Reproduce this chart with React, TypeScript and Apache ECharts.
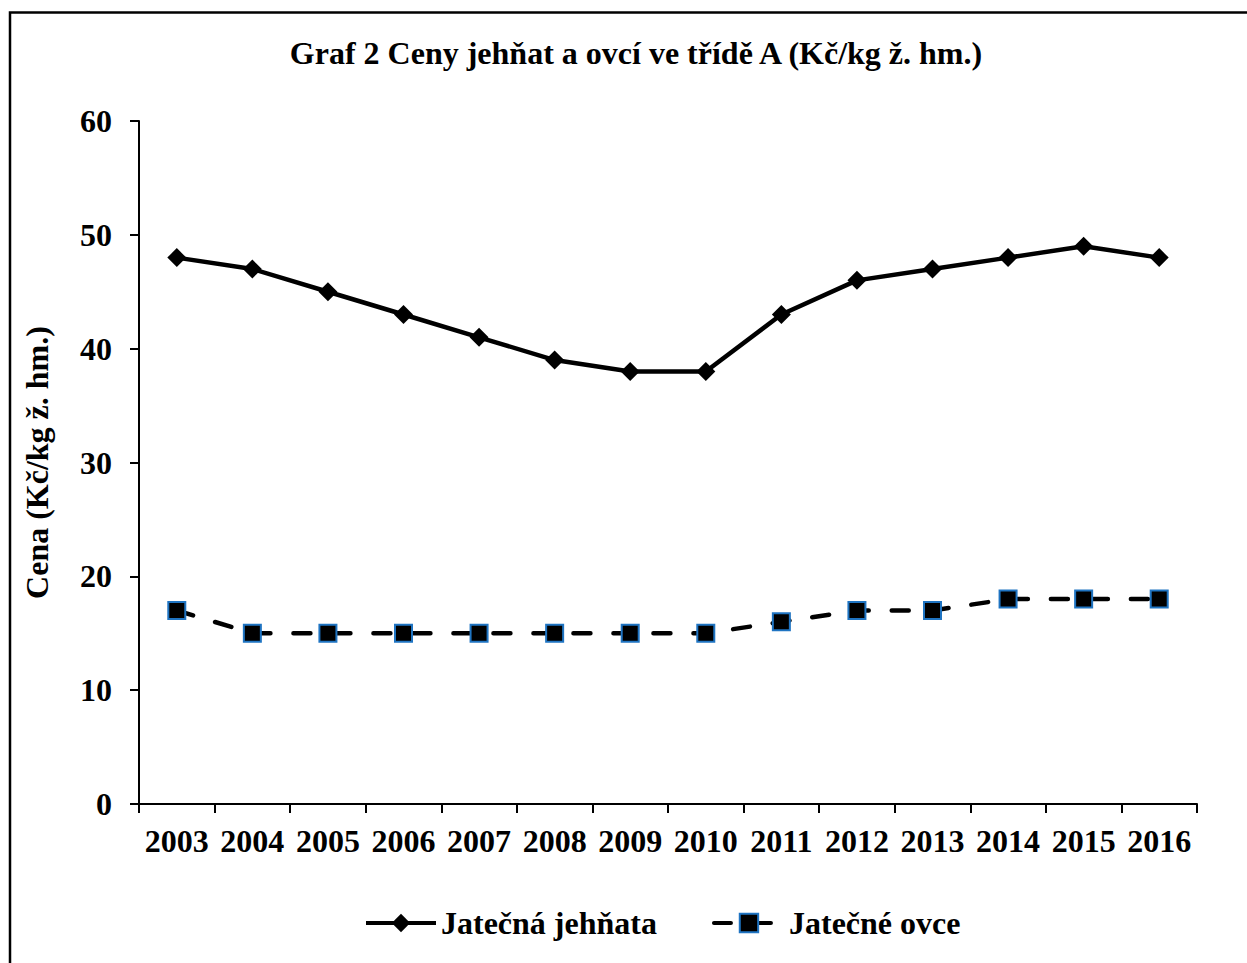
import React, { useEffect, useRef } from "react";
import * as echarts from "echarts";

const titleText = "Graf 2 Ceny jehňat a ovcí ve třídě A (Kč/kg ž. hm.)";
const yAxisName = "Cena (Kč/kg ž. hm.)";
const years = ["2003", "2004", "2005", "2006", "2007", "2008", "2009", "2010", "2011", "2012", "2013", "2014", "2015", "2016"];
const lambName = "Jatečná jehňata";
const lambValues = [48, 47, 45, 43, 41, 39, 38, 38, 43, 46, 47, 48, 49, 48];
const sheepName = "Jatečné ovce";
const sheepValues = [17, 15, 15, 15, 15, 15, 15, 15, 16, 17, 17, 18, 18, 18];

const FONT = "'Liberation Serif', 'Times New Roman', serif";

export default function App() {
  const ref = useRef<HTMLDivElement>(null);
  useEffect(() => {
    if (!ref.current) return;
    const chart = echarts.init(ref.current, null, { renderer: "svg" });
    chart.setOption({
      animation: false,
      backgroundColor: "#ffffff",
      textStyle: { fontFamily: FONT },
      title: {
        text: titleText,
        left: 631,
        top: 32,
        textAlign: "center",
        textStyle: { fontFamily: FONT, fontWeight: "bold", fontSize: 32, color: "#000" },
      },
      graphic: [
        {
          type: "rect",
          shape: { x: 10, y: 12.5, width: 1400, height: 1200 },
          style: { fill: "none", stroke: "#000", lineWidth: 2.5 },
          silent: true,
        },
      ],
      legend: {
        left: 359,
        top: 902,
        itemWidth: 70,
        itemHeight: 23,
        itemGap: 55,
        lineStyle: { width: 4 },
        textStyle: { fontFamily: FONT, fontWeight: "bold", fontSize: 32, color: "#000" },
        data: [lambName, sheepName],
      },
      grid: { left: 139, right: 50, top: 121, bottom: 159, containLabel: false },
      xAxis: {
        type: "category",
        data: years,
        boundaryGap: true,
        axisLine: { lineStyle: { color: "#000", width: 2 } },
        axisTick: { show: true, length: 9, inside: false, lineStyle: { color: "#000", width: 2 } },
        axisLabel: { margin: 21, fontFamily: FONT, fontWeight: "bold", fontSize: 32, color: "#000", interval: 0 },
        splitLine: { show: false },
      },
      yAxis: {
        type: "value",
        min: 0,
        max: 60,
        interval: 10,
        name: yAxisName,
        nameLocation: "middle",
        nameGap: 86,
        nameTextStyle: { fontFamily: FONT, fontWeight: "bold", fontSize: 32, color: "#000" },
        axisLine: { show: true, lineStyle: { color: "#000", width: 2 } },
        axisTick: { show: true, length: 9, lineStyle: { color: "#000", width: 2 } },
        axisLabel: { margin: 27, fontFamily: FONT, fontWeight: "bold", fontSize: 32, color: "#000" },
        splitLine: { show: false },
      },
      series: [
        {
          name: lambName,
          type: "line",
          data: lambValues,
          symbol: "diamond",
          symbolSize: 19,
          itemStyle: { color: "#000" },
          lineStyle: { color: "#000", width: 4.5 },
        },
        {
          name: sheepName,
          type: "line",
          data: sheepValues,
          symbol: "rect",
          symbolSize: 17,
          itemStyle: { color: "#000", borderColor: "#1f74c2", borderWidth: 2 },
          lineStyle: { color: "#000", width: 4.5, type: [17, 23], cap: "round" },
        },
      ],
    });
    return () => chart.dispose();
  }, []);
  return <div ref={ref} style={{ position: "fixed", left: 0, top: 0, width: 1247, height: 963 }} />;
}
